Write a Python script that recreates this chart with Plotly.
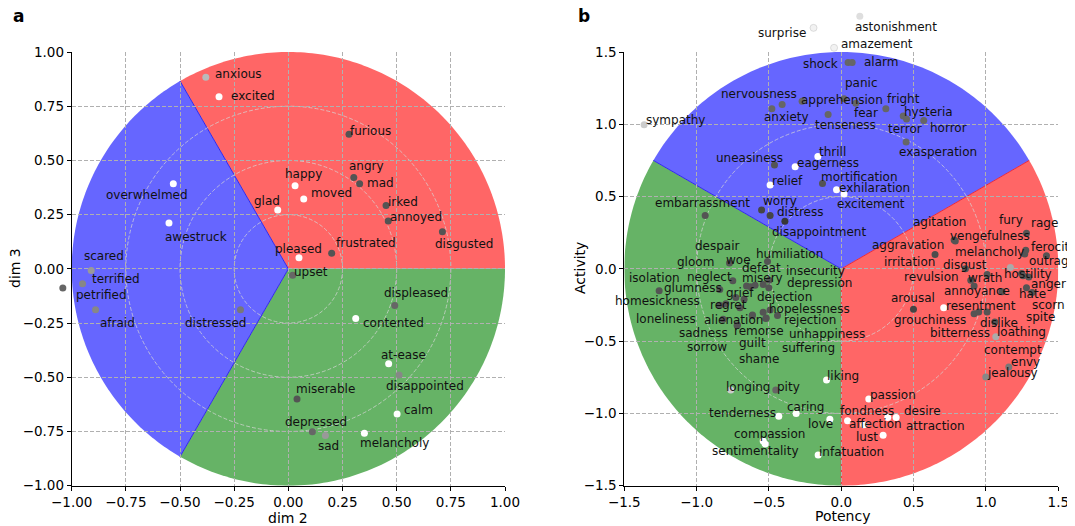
import numpy as np
import plotly.graph_objects as go

# ---------------- data: panel a ----------------
A_LABELS = ["anxious", "excited", "furious", "angry", "mad", "irked", "annoyed", "disgusted",
            "happy", "moved", "glad", "overwhelmed", "awestruck", "pleased", "frustrated",
            "scared", "upset", "terrified", "petrified", "afraid", "distressed", "displeased",
            "contented", "at-ease", "disappointed", "miserable", "calm", "depressed", "sad",
            "melancholy"]
A_DIM2 = [-0.381, -0.320, 0.280, 0.302, 0.329, 0.451, 0.461, 0.711,
          0.031, 0.071, -0.049, -0.531, -0.551, 0.049, 0.200,
          -0.910, 0.020, -0.950, -1.041, -0.890, -0.221, 0.491,
          0.311, 0.463, 0.511, 0.040, 0.502, 0.111, 0.171, 0.351]
A_DIM3 = [0.883, 0.794, 0.621, 0.421, 0.392, 0.292, 0.221, 0.171,
          0.383, 0.322, 0.271, 0.392, 0.212, 0.051, 0.072,
          -0.008, -0.029, -0.069, -0.088, -0.189, -0.189, -0.169,
          -0.229, -0.438, -0.489, -0.600, -0.669, -0.751, -0.769, -0.758]
A_SHADE = [0.73, 1.0, 0.33, 0.33, 0.33, 0.33, 0.33, 0.33,
           1.0, 1.0, 1.0, 1.0, 1.0, 1.0, 0.33,
           0.60, 0.40, 0.53, 0.40, 0.53, 0.47, 0.40,
           1.0, 1.0, 0.53, 0.33, 1.0, 0.40, 0.60, 1.0]

# ---------------- data: panel b ----------------
B_LABELS = ["astonishment", "surprise", "amazement", "shock", "alarm", "panic", "nervousness",
            "anxiety", "apprehension", "fear", "tenseness", "fright", "hysteria", "terror",
            "horror", "exasperation", "sympathy", "thrill", "eagerness", "uneasiness", "relief",
            "mortification", "exhilaration", "excitement", "worry", "distress", "disappointment",
            "embarrassment",
            "agitation", "vengefulness", "aggravation", "irritation", "disgust", "revulsion",
            "wrath", "annoyance", "melancholy", "ferocity", "outrage", "hostility", "anger",
            "hate", "scorn", "spite", "fury", "rage", "resentment", "dislike", "bitterness",
            "loathing", "contempt", "envy", "jealousy", "arousal", "grouchiness",
            "woe", "humiliation", "neglect", "glumness", "homesickness", "defeat", "misery",
            "insecurity", "depression", "gloom", "isolation", "grief", "dejection", "regret",
            "despair", "loneliness", "hopelessness", "rejection", "sadness", "unhappiness",
            "alienation", "remorse", "sorrow", "guilt", "suffering", "shame",
            "longing", "pity", "liking", "tenderness", "caring", "love", "compassion",
            "sentimentality", "infatuation", "passion", "fondness", "desire", "affection",
            "lust", "attraction"]
B_POTENCY = [0.128, -0.192, -0.050, 0.047, 0.075, 0.019, -0.409,
             -0.480, -0.271, 0.100, -0.091, 0.308, 0.428, 0.451,
             0.570, 0.448, -1.363, -0.162, -0.319, -0.462, -0.492,
             -0.130, -0.033, 0.019, -0.551, -0.492, -0.390,
             -0.941,
             0.780, 0.788, 0.648, 1.111, 0.858, 0.895,
             1.008, 0.918, 1.268, 1.275, 1.418, 1.247, 1.280,
             1.319, 1.296, 1.256, 1.280, 1.169, 0.918, 1.061, 0.950,
             1.068, 1.008, 1.158, 0.999, 0.499, 0.708,
             -0.773, -0.510, -0.750, -0.840, -1.259, -0.499, -0.655,
             -0.628, -0.596, -0.540, -0.501, -0.729, -0.672, -0.840,
             -0.798, -0.701, -0.492, -0.441, -0.540, -0.522,
             -0.817, -0.720, -0.614, -0.616, -0.519, -0.718,
             -0.764, -0.453, -0.102, -0.432, -0.312, -0.079, -0.540,
             -0.527, -0.160, 0.190, 0.321, 0.379, 0.043,
             0.289, 0.155]
B_ACTIVITY = [1.747, 1.667, 1.529, 1.427, 1.427, 1.177, 1.137,
              1.108, 1.160, 1.146, 1.068, 1.108, 1.057, 1.037,
              1.027, 0.877, 0.997, 0.778, 0.707, 0.718, 0.580,
              0.590, 0.548, 0.518, 0.407, 0.369, 0.329,
              0.369,
              0.200, 0.193, 0.099, -0.159, 0.000, -0.078,
              -0.039, -0.119, 0.102, 0.129, 0.090, -0.032, -0.131,
              -0.163, -0.057, -0.048, 0.247, 0.010, -0.311, -0.368, -0.299,
              -0.470, -0.299, -0.679, -0.748, -0.280, -0.269,
              0.041, 0.051, -0.083, -0.142, -0.152, -0.078, -0.119,
              -0.124, -0.113, -0.108, -0.131, -0.198, -0.211, -0.251,
              -0.242, -0.269, -0.285, -0.322, -0.301, -0.343,
              -0.349, -0.391, -0.320, -0.324, -0.340, -0.389,
              -0.838, -0.838, -0.769, -1.019, -1.001, -1.040, -1.190,
              -1.211, -1.287, -0.900, -1.029, -1.029, -1.050,
              -1.151, -1.079]
B_SHADE = [0.87, 0.95, 0.95, 0.40, 0.40, 0.40, 0.40,
           0.40, 0.40, 0.40, 0.40, 0.40, 0.40, 0.40,
           0.40, 0.40, 0.80, 1.0, 1.0, 0.33, 1.0,
           0.33, 1.0, 1.0, 0.27, 0.27, 0.22,
           0.33,
           0.33, 0.33, 0.30, 0.33, 0.33, 0.33,
           0.33, 0.33, 0.33, 0.33, 0.33, 0.33, 0.33,
           0.33, 0.33, 0.33, 0.33, 0.67, 0.33, 0.33, 0.33,
           0.67, 0.33, 0.47, 0.53, 0.27, 1.0,
           0.33, 0.33, 0.33, 0.33, 0.33, 0.33, 0.33,
           0.33, 0.33, 0.33, 0.33, 0.33, 0.33, 0.33,
           0.33, 0.33, 0.33, 0.33, 0.33, 0.33,
           0.33, 0.33, 0.33, 0.33, 0.33, 0.33,
           0.80, 0.40, 1.0, 1.0, 1.0, 1.0, 1.0,
           1.0, 1.0, 1.0, 1.0, 1.0, 1.0,
           1.0, 1.0]

A_TICKS = [-1.0, -0.75, -0.5, -0.25, 0.0, 0.25, 0.5, 0.75, 1.0]
B_TICKS = [-1.5, -1.0, -0.5, 0.0, 0.5, 1.0, 1.5]

# ---------------- layout helpers (label offsets in screen px: dx right, dy down) ----------------
A_OFF = {
    "anxious": (8.6, -3.7), "excited": (11, -1), "furious": (0, -3.6), "angry": (-5.7, -12),
    "mad": (6.3, -1.3), "irked": (0.7, -4), "annoyed": (0.7, -4.3), "disgusted": (-8.3, 12.3),
    "happy": (-11.3, -12), "moved": (6, -6.3), "glad": (-25, -9.3), "overwhelmed": (-68, 10.7),
    "awestruck": (-5.3, 13.7), "pleased": (-24.7, -9), "frustrated": (3.3, -10),
    "scared": (-8.7, -14.7), "upset": (0.6, -3.3), "terrified": (8.4, -4.7),
    "petrified": (12, 7.3), "afraid": (3.7, 12.7), "distressed": (-56.3, 12.7),
    "displeased": (-11.4, -13), "contented": (6, 4), "at-ease": (-8.3, -9),
    "disappointed": (-14, 10.7), "miserable": (-2, -9.7), "calm": (6.3, -4),
    "depressed": (-28.3, -10), "sad": (-8.6, 10), "melancholy": (-5.3, 10),
}
B_OFF = {
    "astonishment": (-5.7, 11), "surprise": (-56.4, 4.7), "amazement": (5.7, -4),
    "shock": (-46.3, 1.3), "alarm": (10.4, -1), "panic": (0, -15.6),
    "nervousness": (-62.3, -10), "anxiety": (-8.7, 8.4), "apprehension": (-2.3, -1),
    "fear": (-2.7, 10.3), "tenseness": (-14, 11), "fright": (0, -9.3), "hysteria": (-0.2, -4),
    "terror": (-20, 9.8), "horror": (5.3, 7.7), "exasperation": (-8, 10.3),
    "sympathy": (0.7, -4.3), "thrill": (0.3, -4.7), "eagerness": (0.7, -4),
    "uneasiness": (-59, -6.7), "relief": (0.7, -4), "mortification": (-2.7, -6.6),
    "exhilaration": (1.6, -1.6), "excitement": (-8.3, 9.6), "worry": (0.3, -9),
    "distress": (5.7, -4), "disappointment": (-14, 10.3), "embarrassment": (-51, -13),
    "agitation": (-42.6, -18), "vengefulness": (-6.5, -5.1), "aggravation": (-64.3, -9.6),
    "irritation": (-119, -30), "disgust": (-23.4, -3.7), "revulsion": (-67.7, -3.3),
    "wrath": (-20.6, 3.4), "annoyance": (-31, 5.3), "melancholy": (-71, -2),
    "ferocity": (4, -3.7), "outrage": (-18.4, 5.3), "hostility": (-18.7, 1),
    "anger": (3.3, -3.4), "hate": (-14, 2), "scorn": (2, 28), "spite": (1.7, 41.6),
    "fury": (-28.4, -13), "rage": (19.3, -44), "resentment": (-29.3, -8),
    "dislike": (-15.7, 0.7), "bitterness": (-50, 20.7), "loathing": (-0.3, -4.4),
    "contempt": (-4.6, 38), "envy": (1, -4.7), "jealousy": (-0.3, -3.7),
    "arousal": (-23.7, -11.3), "grouchiness": (-50.7, 12.3),
    "despair": (-32, -58), "gloom": (-87.3, -22), "woe": (-4.7, -2.7),
    "humiliation": (-12.7, -7.6), "defeat": (-28.3, -12.3), "isolation": (-141, -10),
    "neglect": (-47, -3.7), "misery": (-6, -7.7), "insecurity": (35, -15.7),
    "depression": (31, -1.7), "glumness": (-56.7, -1), "homesickness": (-45, 10),
    "grief": (-11, -4.6), "dejection": (11.7, -2.6), "regret": (-11, 0.3),
    "hopelessness": (-2.6, -1), "loneliness": (-105.3, 11.3), "alienation": (-20, 0.7),
    "rejection": (5.6, 4.7), "sadness": (-85.6, 21), "remorse": (-4.6, 5.4),
    "unhappiness": (22.3, 15.7), "sorrow": (-66.7, 32.3), "guilt": (-14.6, 27.7),
    "suffering": (14.3, 29.7), "shame": (0.1, 34.3),
    "longing": (-5.3, -3), "pity": (0.7, -3), "liking": (-0.1, -4),
    "tenderness": (-70.7, -3), "caring": (-10.6, -7), "love": (-22.7, 4.7),
    "compassion": (-30.6, -7), "sentimentality": (-54.3, 7), "infatuation": (0.2, -3.3),
    "passion": (0, -4), "fondness": (-49, -6.7), "desire": (6.4, -6.7),
    "affection": (0, 3.6), "lust": (-28.3, 1.4), "attraction": (41, 0.7),
}

RED = "rgb(255,102,102)"
BLUE = "rgb(102,102,255)"
GREEN = "rgb(102,179,102)"
FONT = "DejaVu Sans"
OFFX, OFFY = 8, 8            # page body margin
W, H = 1075 - OFFX, 526 - OFFY

# plot boxes in window pixels
A_BOX = (71.7, 505.0)        # x px of range ends
B_BOX = (624.3, 1058.3)
Y_BOX = (485.7, 52.0)        # y px of bottom / top range ends


def px2x(px):
    return (px - OFFX) / W


def py2y(py):
    return 1 - (py - OFFY) / H


def extend_x(box, rng, q0, q1):
    s = (rng[1] - rng[0]) / (box[1] - box[0])
    return [rng[0] + (q0 - box[0]) * s, rng[0] + (q1 - box[0]) * s]


def extend_y(box, rng, q_bot, q_top):
    s = (rng[1] - rng[0]) / (box[0] - box[1])
    return [rng[0] - (q_bot - box[0]) * s, rng[0] + (box[0] - q_top) * s]


def gray(v):
    c = int(round(255 * v))
    return f"rgb({c},{c},{c})"


def wedge_path(r, a0, a1):
    t = np.radians(np.linspace(a0, a1, 120))
    pts = " ".join(f"L{r*np.cos(a):.5f},{r*np.sin(a):.5f}" for a in t)
    return f"M0,0 {pts} Z"


fig = go.Figure()
shapes = []


def add_panel(xref, yref, R, wedges, edges, rings):
    for a0, a1, col in wedges:
        shapes.append(dict(type="path", xref=xref, yref=yref, path=wedge_path(R, a0, a1),
                           fillcolor=col, line=dict(width=0), layer="below"))
    for ang, col in edges:
        a = np.radians(ang)
        shapes.append(dict(type="line", xref=xref, yref=yref, x0=0, y0=0,
                           x1=R * np.cos(a), y1=R * np.sin(a),
                           line=dict(color=col, width=1), layer="below"))
    for r in rings:
        shapes.append(dict(type="circle", xref=xref, yref=yref, x0=-r, x1=r, y0=-r, y1=r,
                           line=dict(color="rgba(215,215,215,0.9)", width=0.8, dash="4px,2px"),
                           layer="below"))


add_panel("x", "y", 1.0,
          [(0, 120, RED), (240, 360, GREEN), (120, 240, BLUE)],
          [(120, "rgb(50,40,235)"), (240, "rgb(50,40,235)")],
          [0.25, 0.5, 0.75])
add_panel("x2", "y2", 1.5,
          [(150, 270, GREEN), (30, 150, BLUE), (-90, 30, RED)],
          [(150, "rgb(50,40,235)"), (30, "rgb(235,40,60)"), (-90, "rgb(235,40,60)")],
          [0.5, 1.0])

# points live on invisible, same-scale axes that span a larger box (so nothing gets hidden)
fig.add_trace(go.Scatter(x=A_DIM2, y=A_DIM3, mode="markers", xaxis="x3", yaxis="y3",
                         marker=dict(size=7, color=[gray(v) for v in A_SHADE], line=dict(width=0)),
                         text=A_LABELS, hoverinfo="text", cliponaxis=False, showlegend=False))
b_line = [0.6 if v > 0.9 and a > 1.4 else 0 for v, a in zip(B_SHADE, B_ACTIVITY)]
fig.add_trace(go.Scatter(x=B_POTENCY, y=B_ACTIVITY, mode="markers", xaxis="x4", yaxis="y4",
                         marker=dict(size=7, color=[gray(v) for v in B_SHADE],
                                     line=dict(width=b_line, color="rgb(200,200,200)")),
                         text=B_LABELS, hoverinfo="text", cliponaxis=False, showlegend=False))

annotations = []
for lab, x, y in zip(A_LABELS, A_DIM2, A_DIM3):
    dx, dy = A_OFF[lab]
    annotations.append(dict(x=x, y=y, xref="x3", yref="y3", text=lab, showarrow=False,
                            xanchor="left", yanchor="middle", xshift=dx, yshift=-dy,
                            borderpad=0, font=dict(family=FONT, size=12, color="#111")))
for lab, x, y in zip(B_LABELS, B_POTENCY, B_ACTIVITY):
    dx, dy = B_OFF[lab]
    annotations.append(dict(x=x, y=y, xref="x4", yref="y4", text=lab, showarrow=False,
                            xanchor="left", yanchor="middle", xshift=dx, yshift=-dy,
                            borderpad=0, font=dict(family=FONT, size=12, color="#111")))


def paper_text(text, px, py, size, angle=0, bold=False):
    annotations.append(dict(x=px2x(px), y=py2y(py), xref="paper", yref="paper",
                            text=f"<b>{text}</b>" if bold else text, showarrow=False,
                            xanchor="center", yanchor="middle", textangle=angle,
                            font=dict(family=FONT, size=size, color="black")))


paper_text("dim 2", 288, 518, 14)
paper_text("dim 3", 15, 268, 14, angle=-90)
paper_text("Potency", 842, 516, 14)
paper_text("Activity", 580, 268, 14, angle=-90)
paper_text("a", 18, 16, 17, bold=True)
paper_text("b", 584, 16, 17, bold=True)

ydom = [py2y(Y_BOX[0]), py2y(Y_BOX[1])]
axis_common = dict(showgrid=True, gridcolor="#b0b0b0", gridwidth=0.8, griddash="4px,2px",
                   zeroline=False, showline=True, linecolor="black", linewidth=1,
                   ticks="outside", ticklen=4, tickcolor="black", mirror=False,
                   tickfont=dict(family=FONT, size=13.5, color="black"))
hidden = dict(visible=False, showgrid=False, zeroline=False, fixedrange=True)

A_RANGE = [-1, 1]
B_RANGE = [-1.5, 1.5]
A_EXT_X = (OFFX, 590.0)
B_EXT_X = (560.0, 1075.0)
EXT_Y = (526.0, OFFY)

fig.update_layout(
    width=W, height=H, margin=dict(l=0, r=0, t=0, b=0),
    paper_bgcolor="white", plot_bgcolor="rgba(0,0,0,0)", template="none",
    xaxis=dict(domain=[px2x(A_BOX[0]), px2x(A_BOX[1])], range=A_RANGE, tickvals=A_TICKS,
               tickformat=".2f", anchor="y", **axis_common),
    yaxis=dict(domain=ydom, range=A_RANGE, tickvals=A_TICKS, tickformat=".2f",
               anchor="x", **axis_common),
    xaxis2=dict(domain=[px2x(B_BOX[0]), px2x(B_BOX[1])], range=B_RANGE, tickvals=B_TICKS,
                tickformat=".1f", anchor="y2", **axis_common),
    yaxis2=dict(domain=ydom, range=B_RANGE, tickvals=B_TICKS, tickformat=".1f",
                anchor="x2", **axis_common),
    xaxis3=dict(domain=[px2x(A_EXT_X[0]), px2x(A_EXT_X[1])],
                range=extend_x(A_BOX, A_RANGE, *A_EXT_X), anchor="y3", **hidden),
    yaxis3=dict(domain=[py2y(EXT_Y[0]), py2y(EXT_Y[1])],
                range=extend_y(Y_BOX, A_RANGE, *EXT_Y), anchor="x3", **hidden),
    xaxis4=dict(domain=[px2x(B_EXT_X[0]), px2x(B_EXT_X[1])],
                range=extend_x(B_BOX, B_RANGE, *B_EXT_X), anchor="y4", **hidden),
    yaxis4=dict(domain=[py2y(EXT_Y[0]), py2y(EXT_Y[1])],
                range=extend_y(Y_BOX, B_RANGE, *EXT_Y), anchor="x4", **hidden),
    shapes=shapes, annotations=annotations, showlegend=False,
)

fig.write_html("out.html")
